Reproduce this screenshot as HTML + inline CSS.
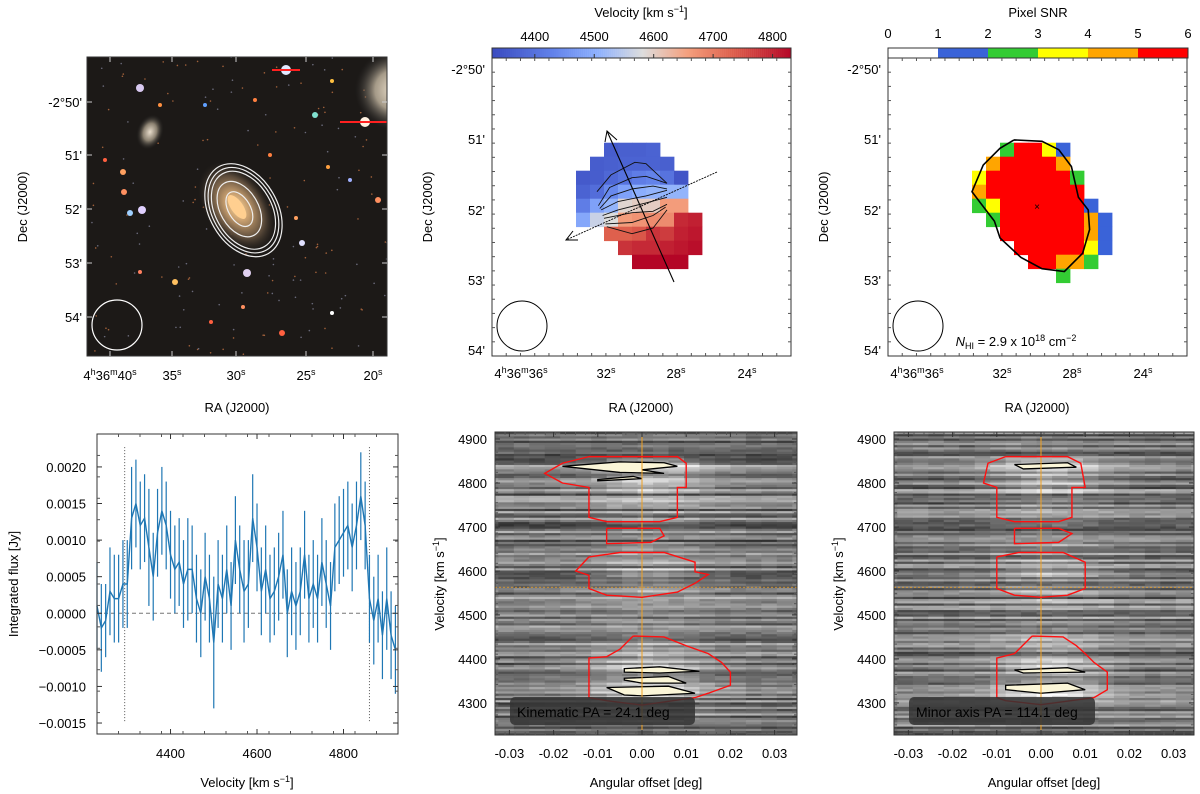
<!DOCTYPE html>
<html><head><meta charset="utf-8">
<style>
html,body{margin:0;padding:0;background:#fff;}
svg{display:block;font-family:"Liberation Sans",Arial,sans-serif;}
text{fill:#000;}
</style></head>
<body>
<svg id="fig" width="1200" height="794" viewBox="0 0 1200 794" xmlns="http://www.w3.org/2000/svg">
<rect width="1200" height="794" fill="#fff"/>
<defs>
 <radialGradient id="galg"><stop offset="0" stop-color="#f4d6a0"/><stop offset="0.3" stop-color="#c9a070"/><stop offset="0.7" stop-color="#5a4a3a"/><stop offset="1" stop-color="#2a2520" stop-opacity="0"/></radialGradient>
 <radialGradient id="gal2"><stop offset="0" stop-color="#e8dccb"/><stop offset="0.5" stop-color="#8a8070"/><stop offset="1" stop-color="#222" stop-opacity="0"/></radialGradient>
 <radialGradient id="bigg"><stop offset="0" stop-color="#f0e4d0"/><stop offset="0.5" stop-color="#a59a88"/><stop offset="1" stop-color="#333" stop-opacity="0"/></radialGradient>
 <clipPath id="clipTL"><rect x="87" y="57" width="300" height="299"/></clipPath>
 <clipPath id="clipPV1"><rect x="495" y="432" width="302" height="303"/></clipPath>
 <clipPath id="clipPV2"><rect x="894" y="432" width="300" height="303"/></clipPath>
</defs>
<g id="layer"></g>
</svg>
<script>
// ---------- DATA ----------
const specVel = [4230,4240,4250,4260,4270,4280,4290,4300,4310,4320,4330,4340,4350,4360,4370,4380,4390,4400,4410,4420,4430,4440,4450,4460,4470,4480,4490,4500,4510,4520,4530,4540,4550,4560,4570,4580,4590,4600,4610,4620,4630,4640,4650,4660,4670,4680,4690,4700,4710,4720,4730,4740,4750,4760,4770,4780,4790,4800,4810,4820,4830,4840,4850,4860,4870,4880,4890,4900,4910,4920];
const specFlux = [0.0001,-0.0002,-0.0001,0.0003,0.0002,0.0002,0.0004,0.0004,0.0013,0.0015,0.0012,0.0013,0.0009,0.0005,0.0011,0.0014,0.0012,0.0008,0.0006,0.0007,0.0004,0.0006,0.0006,0.0002,0.0000,0.0005,0.0002,-0.0004,0.0004,0.0002,0.0006,0.0001,0.0010,0.0006,0.0003,0.0004,0.0013,0.0009,0.0003,0.0006,0.0002,0.0003,0.0005,0.0008,0.0000,0.0003,0.0001,0.0003,0.0008,0.0002,0.0004,0.0002,0.0007,0.0004,0.0001,0.0009,0.0010,0.0011,0.0012,0.0009,0.0012,0.0016,0.0012,0.0002,-0.0001,0.0002,-0.0003,0.0002,-0.0003,-0.0005];
const specErr = [0.0006,0.0006,0.0005,0.0006,0.0006,0.0006,0.0006,0.0006,0.0007,0.0006,0.0006,0.0006,0.0008,0.0006,0.0006,0.0006,0.0006,0.0006,0.0006,0.0006,0.0006,0.0007,0.0006,0.0006,0.0006,0.0006,0.0006,0.0009,0.0006,0.0006,0.0006,0.0006,0.0006,0.0006,0.0007,0.0006,0.0006,0.0006,0.0006,0.0006,0.0006,0.0006,0.0006,0.0006,0.0006,0.0006,0.0006,0.0006,0.0006,0.0006,0.0006,0.0006,0.0006,0.0006,0.0006,0.0006,0.0006,0.0006,0.0006,0.0006,0.0006,0.0006,0.0006,0.0006,0.0006,0.0006,0.0006,0.0007,0.0006,0.0006];
const specYTicks = [-0.0015,-0.0010,-0.0005,0.0000,0.0005,0.0010,0.0015,0.0020];
const specXTicks = [4400,4600,4800];
const lineEdges = [4294,4860];

const velGrid = [
 [null,null,4360,4365,4365,4370,null,null,null,null],
 [null,4360,4365,4370,4370,4370,4365,null,null,null],
 [4355,4360,4380,4400,4420,4430,4400,4345,null,null],
 [4370,4390,4440,4480,4500,4510,4510,4510,null,null],
 [4420,4480,4510,4590,4600,4600,4660,4660,null,null],
 [4490,4560,4580,4660,4670,4680,4680,4790,4800,null],
 [null,null,4730,4730,4740,4780,4770,4800,4810,null],
 [null,null,null,4780,4790,4790,4800,4810,4820,null],
 [null,null,null,null,4830,4830,4830,4830,null,null]
];
const velTicks = [4400,4500,4600,4700,4800];
const snrGrid = [
 [0,0,2,5,5,3,1,0,0,0],
 [0,4,5,5,5,5,4,0,0,0],
 [3,5,5,5,5,5,5,2,0,0],
 [4,5,5,5,5,5,5,5,0,0],
 [2,3,5,5,5,5,5,5,1,0],
 [0,2,5,5,5,5,5,5,4,1],
 [0,0,5,5,5,5,5,5,4,1],
 [0,0,0,5,5,5,5,5,3,1],
 [0,0,0,0,5,5,4,4,2,0],
 [0,0,0,0,0,0,2,0,0,0]
];
const snrColors = ['#ffffff','#3a63d8','#33cc33','#ffff00','#ffa500','#ff0000'];
const snrTicks = [0,1,2,3,4,5,6];
const nhiContour = [[3,-0.2],[5,-0.1],[6.2,0.5],[7.1,1.7],[7.6,3.9],[8.3,4.8],[8.4,6.2],[7.9,7.9],[6.6,9.2],[5,9],[3.5,8.2],[2,6.8],[1.6,5.6],[0.6,4.3],[0,3.5],[0.8,1.6],[2,0.4],[3,-0.2]];
const isoLines = [
 [[1.5,3.5],[2.5,2.3],[4.2,1.4],[5,1.5],[6.5,2.9]],
 [[1.6,4.5],[2.4,3.2],[4,2.5],[5,2.4],[6.5,2.9]],
 [[1.7,4.7],[2.5,3.8],[4,3.3],[5.5,3.1],[6.5,3.3]],
 [[1.8,4.8],[3,4.2],[5,3.8],[6.5,3.4]],
 [[1.9,5.2],[3,4.8],[5,4.3],[6.5,3.9]],
 [[2,5.4],[4,5],[5.5,4.9],[6.5,4.4]],
 [[2.1,5.8],[4,5.7],[5.5,5.2],[6.4,4.6]],
 [[2.2,6],[4,6.5],[5.5,6.1],[6.5,4.8]]
];
const pvKinRed = [
 [[-0.012,4860],[0.008,4860],[0.010,4845],[0.010,4790],[0.008,4790],[0.008,4722],[0.004,4712],[-0.008,4712],[-0.012,4722],[-0.012,4790],[-0.018,4800],[-0.022,4822],[-0.018,4845],[-0.012,4860]],
 [[-0.008,4697],[0.004,4697],[0.005,4680],[0.002,4665],[-0.008,4662],[-0.008,4697]],
 [[-0.012,4632],[-0.005,4642],[0.005,4642],[0.012,4620],[0.012,4598],[0.015,4592],[0.012,4572],[0.008,4552],[0.0,4540],[-0.008,4545],[-0.012,4560],[-0.012,4590],[-0.015,4600],[-0.012,4632]],
 [[-0.002,4452],[0.005,4450],[0.010,4430],[0.015,4412],[0.018,4392],[0.020,4370],[0.020,4340],[0.015,4322],[0.012,4312],[0.0,4295],[-0.008,4305],[-0.012,4312],[-0.012,4402],[-0.008,4405],[-0.005,4422],[-0.002,4452]]
];
const pvMinRed = [
 [[-0.008,4860],[0.006,4860],[0.009,4845],[0.010,4790],[0.007,4790],[0.007,4722],[0.004,4712],[-0.006,4712],[-0.010,4722],[-0.010,4790],[-0.013,4800],[-0.012,4845],[-0.008,4860]],
 [[-0.006,4697],[0.004,4697],[0.007,4685],[0.004,4665],[-0.006,4662],[-0.006,4697]],
 [[-0.010,4632],[-0.005,4642],[0.005,4642],[0.010,4620],[0.010,4560],[0.006,4545],[0.0,4540],[-0.006,4545],[-0.010,4560],[-0.010,4632]],
 [[-0.002,4452],[0.005,4450],[0.008,4430],[0.010,4412],[0.012,4392],[0.015,4370],[0.015,4330],[0.012,4312],[0.0,4296],[-0.008,4305],[-0.010,4312],[-0.010,4402],[-0.006,4412],[-0.002,4452]]
];
// high-level (black) contours with pale fill
const pvKinBlack = [
 [[-0.018,4838],[-0.005,4848],[0.005,4846],[0.008,4838],[0.0,4830],[0.005,4822],[-0.005,4824],[-0.018,4838]],
 [[-0.010,4808],[-0.002,4815],[0.0,4810],[-0.010,4805]],
 [[-0.004,4378],[0.004,4382],[0.013,4372],[0.004,4368],[-0.004,4370]],
 [[-0.004,4356],[0.006,4360],[0.010,4345],[0.0,4345],[-0.004,4352]],
 [[-0.008,4335],[0.006,4338],[0.012,4322],[0.0,4316],[-0.004,4318],[-0.008,4335]]
];
const pvMinBlack = [
 [[-0.006,4842],[0.006,4846],[0.008,4836],[-0.004,4832],[-0.006,4842]],
 [[-0.006,4375],[0.006,4380],[0.010,4370],[-0.004,4368]],
 [[-0.008,4340],[0.006,4345],[0.010,4330],[0.0,4322],[-0.008,4330]]
];
const pvXTicks = [-0.03,-0.02,-0.01,0.00,0.01,0.02,0.03];
const pvYTicks = [4300,4400,4500,4600,4700,4800,4900];
const stars = [[140,88,4,'#d8c8f0'],[286,70,5,'#e0e8ff'],[365,122,5,'#fff0e0'],[123,172,3,'#ffa060'],[124,192,3,'#ff9060'],[130,213,3,'#a0d0ff'],[142,210,4,'#e0d0ff'],[247,273,4,'#e0d0f0'],[315,115,3,'#80e0d0'],[332,81,2,'#ffc040'],[302,243,3,'#e0e0ff'],[296,218,2,'#ffa060'],[175,282,3,'#ffc060'],[211,322,2,'#ff6040'],[282,333,3,'#ff6040'],[332,313,2,'#ffffff'],[140,272,2,'#ff8060'],[205,105,2,'#60a0ff'],[378,200,3,'#ff9060'],[350,180,2,'#a0b0ff'],[243,307,2,'#ff9060'],[270,155,2,'#ff8040'],[160,105,2,'#ff9040'],[328,167,2,'#ffa040'],[255,100,2,'#ff8040'],[105,160,2,'#ff6040']];

// ---------- helpers ----------
const NS='http://www.w3.org/2000/svg';
const root=document.getElementById('layer');
function el(tag,attrs,parent){const e=document.createElementNS(NS,tag);for(const k in attrs)e.setAttribute(k,attrs[k]);(parent||root).appendChild(e);return e;}
function txt(x,y,s,size,anchor,parent,extra){const t=el('text',Object.assign({x:x,y:y,'font-size':size||13,'text-anchor':anchor||'middle'},extra||{}),parent);t.innerHTML=s;return t;}
function fmt(v,d){let s=v.toFixed(d);if(v<0)s='\u2212'+(-v).toFixed(d);return s;}
function ticksBox(x0,y0,x1,y1,xs,ys,parent,col){
 const c=col||'#333';
 xs.forEach(x=>{el('line',{x1:x,y1:y1,x2:x,y2:y1-5,stroke:c,'stroke-width':1},parent);el('line',{x1:x,y1:y0,x2:x,y2:y0+5,stroke:c,'stroke-width':1},parent);});
 ys.forEach(y=>{el('line',{x1:x0,y1:y,x2:x0+5,y2:y,stroke:c,'stroke-width':1},parent);el('line',{x1:x1,y1:y,x2:x1-5,y2:y,stroke:c,'stroke-width':1},parent);});
}
function minorTicks(x0,y0,x1,y1,n,parent){
 for(let i=1;i<n;i++){const x=x0+(x1-x0)*i/n;el('line',{x1:x,y1:y1,x2:x,y2:y1-3,stroke:'#555'},parent);el('line',{x1:x,y1:y0,x2:x,y2:y0+3,stroke:'#555'},parent);
 const y=y0+(y1-y0)*i/n;el('line',{x1:x0,y1:y,x2:x0+3,y2:y,stroke:'#555'},parent);el('line',{x1:x1,y1:y,x2:x1-3,y2:y,stroke:'#555'},parent);}
}
const cwStops=[[0,[59,76,192]],[0.2,[98,130,234]],[0.35,[141,176,254]],[0.5,[221,221,221]],[0.65,[245,160,126]],[0.8,[222,96,77]],[1,[180,4,38]]];
function coolwarm(v,lo,hi){
 let t=Math.max(0,Math.min(1,(v-lo)/(hi-lo)));
 for(let i=1;i<cwStops.length;i++){if(t<=cwStops[i][0]){const a=cwStops[i-1],b=cwStops[i];const u=(t-a[0])/(b[0]-a[0]);return 'rgb('+a[1].map((x,j)=>Math.round(x+(b[1][j]-x)*u)).join(',')+')';}}
 return 'rgb(180,4,38)';
}
function hash(i,j){const s=Math.sin(i*12.9898+j*78.233)*43758.5453;return s-Math.floor(s);}

// ---------- Panel 1: optical ----------
(function(){
 const g=el('g',{'clip-path':'url(#clipTL)'});
 
 
 el('rect',{x:87,y:57,width:300,height:299,fill:'#1c1917'},g);
 for(let i=0;i<160;i++){const x=87+hash(i,3)*300,y=57+hash(i,7)*299;el('circle',{cx:x,cy:y,r:0.8,fill:hash(i,9)>0.5?'#a0603a':'#6a6a7a'},g);}
 el('ellipse',{cx:395,cy:90,rx:40,ry:40,fill:'url(#bigg)'},g);
 el('ellipse',{cx:150,cy:132,rx:13,ry:18,fill:'url(#gal2)',transform:'rotate(20 150 132)'},g);
 el('ellipse',{cx:237,cy:207,rx:32,ry:50,fill:'url(#galg)',transform:'rotate(-35 237 207)'},g);
 el('ellipse',{cx:237,cy:207,rx:6,ry:14,fill:'#ffcf90',transform:'rotate(-35 237 207)'},g);
 stars.forEach(s=>{
  const c=el('circle',{cx:s[0],cy:s[1],r:s[2],fill:s[3]},g);
  
  
 });
 el('line',{x1:272,y1:70,x2:300,y2:70,stroke:'#ff2020','stroke-width':2},g);
 el('line',{x1:340,y1:122,x2:388,y2:122,stroke:'#ff2020','stroke-width':2},g);
 const cont=[[34,50],[31,46],[28,42],[19,30],[11,19]];
 cont.forEach((c,i)=>{const e=el('ellipse',{cx:238+(i<3?3:0),cy:210+(i<3?3:0),rx:c[0],ry:c[1],fill:'none',stroke:'#eee','stroke-width':1.2,transform:'rotate(-30 237 207)'},g);
  
  });
 const b=el('circle',{cx:117,cy:325,r:25,fill:'none',stroke:'#fff','stroke-width':1.2},g);
 
 
 el('rect',{x:87,y:57,width:300,height:299,fill:'none',stroke:'#333'});
 ticksBox(87,57,387,356,[110,172,236,306,373],[102,155,209,263,317],root,'#ccc');
 [["-2°50'",102],["51'",155],["52'",209],["53'",263],["54'",317]].forEach(l=>txt(82,l[1]+5,l[0],13,'end'));
 [['4<tspan dy="-5" font-size="9">h</tspan><tspan dy="5">36</tspan><tspan dy="-5" font-size="9">m</tspan><tspan dy="5">40</tspan><tspan dy="-5" font-size="9">s</tspan>',110],['35<tspan dy="-5" font-size="9">s</tspan>',172],['30<tspan dy="-5" font-size="9">s</tspan>',236],['25<tspan dy="-5" font-size="9">s</tspan>',306],['20<tspan dy="-5" font-size="9">s</tspan>',373]].forEach(l=>txt(l[1],380,l[0],13));
 const yt=txt(0,0,'Dec (J2000)',13,'middle',root,{transform:'translate(27 207) rotate(-90)'});
 
 
 const xt=txt(237,412,'RA (J2000)',13);
 
 
})();

function mapAxes(x0){
 el('rect',{x:x0,y:58,width:299,height:298,fill:'none',stroke:'#333'});
 minorTicks(x0,58,x0+299,356,21,root);
 [["-2°50'",69],["51'",139],["52'",210],["53'",280],["54'",350]].forEach(l=>txt(x0-7,l[1]+5,l[0],13,'end'));
 const xs=[[ '4<tspan dy="-5" font-size="9">h</tspan><tspan dy="5">36</tspan><tspan dy="-5" font-size="9">m</tspan><tspan dy="5">36</tspan><tspan dy="-5" font-size="9">s</tspan>',29],['32<tspan dy="-5" font-size="9">s</tspan>',114],['28<tspan dy="-5" font-size="9">s</tspan>',184],['24<tspan dy="-5" font-size="9">s</tspan>',255]];
 xs.forEach(l=>txt(x0+l[1],378,l[0],13));
 const yt=txt(0,0,'Dec (J2000)',13,'middle',root,{transform:'translate('+(x0-60)+' 207) rotate(-90)'});
 
 
 const xt=txt(x0+149,412,'RA (J2000)',13);
 
 
 const b=el('circle',{cx:x0+30,cy:326,r:25,fill:'none',stroke:'#000','stroke-width':1});
 
 
}
const PIX=14, GY0=142.7;
function gx(x0,c){return x0+84+c*PIX;}
function gy(r){return GY0+r*PIX;}

// ---------- Panel 2: velocity field ----------
(function(){
 const x0=492;
 const VLO=4328,VHI=4831;
 const cbx=v=>x0+(v-VLO)/(VHI-VLO)*299;
 for(let i=0;i<150;i++){const v=VLO+(VHI-VLO)*i/150;el('rect',{x:cbx(v),y:48,width:2.2,height:10,fill:coolwarm(v,VLO,VHI)});}
 const cb=el('rect',{x:x0,y:48,width:299,height:10,fill:'none',stroke:'#333'});
 
 
 velTicks.forEach(v=>{txt(cbx(v),41,v,13);el('line',{x1:cbx(v),y1:58,x2:cbx(v),y2:54,stroke:'#333'});});
 txt(x0+149,17,'Velocity [km s<tspan dy="-5" font-size="9">−1</tspan><tspan dy="5">]</tspan>',13);
 velGrid.forEach((row,r)=>row.forEach((v,c)=>{if(v===null)return;
  const p=el('rect',{x:gx(x0,c),y:gy(r),width:PIX+0.4,height:PIX+0.4,fill:coolwarm(v,VLO,VHI)});
  
  }));
 isoLines.forEach(l=>{const pl=el('polyline',{points:l.map(p=>gx(x0,p[0])+','+gy(p[1])).join(' '),fill:'none',stroke:'#111','stroke-width':0.9});
  
  });
 const kin=el('line',{x1:674,y1:282,x2:607,y2:131,stroke:'#000','stroke-width':1.1});
 
 
 el('polyline',{points:'605,142 607,131 617,140',fill:'none',stroke:'#000'});
 const mn=el('line',{x1:717,y1:172,x2:566,y2:240,stroke:'#000','stroke-width':0.9,'stroke-dasharray':'2,1'});
 
 
 el('polyline',{points:'573,231 566,240 578,240',fill:'none',stroke:'#000'});
 mapAxes(x0);
})();

// ---------- Panel 3: SNR ----------
(function(){
 const x0=888;
 snrColors.forEach((c,i)=>el('rect',{x:x0+i*50,y:48,width:50,height:10,fill:c}));
 const cb=el('rect',{x:x0,y:48,width:300,height:10,fill:'none',stroke:'#333'});
 
 
 snrTicks.forEach((t,i)=>txt(x0+i*50,38,t,13));
 txt(x0+150,17,'Pixel SNR',13);
 snrGrid.forEach((row,r)=>row.forEach((v,c)=>{if(v===0)return;
  const p=el('rect',{x:gx(x0,c),y:gy(r),width:PIX+0.4,height:PIX+0.4,fill:snrColors[v]});
  
  }));
 const pc=el('polyline',{points:nhiContour.map(p=>gx(x0,p[0])+','+gy(p[1])).join(' '),fill:'none',stroke:'#000','stroke-width':1.6});
 
 
 txt(1037,210,'×',10);
 const lab=txt(1016,346,'<tspan font-style="italic">N</tspan><tspan font-size="9" dy="3">HI</tspan><tspan dy="-3"> = 2.9 x 10</tspan><tspan font-size="9" dy="-5">18</tspan><tspan dy="5"> cm</tspan><tspan font-size="9" dy="-5">−2</tspan>',13);
 
 
 mapAxes(x0);
})();

// ---------- Panel 4: spectrum ----------
(function(){
 const X0=97,X1=398,Y0=434,Y1=734;
 const VMIN=4230,VMAX=4926,FMIN=-0.00165,FMAX=0.00245;
 const sx=v=>X0+(v-VMIN)/(VMAX-VMIN)*(X1-X0);
 const sy=f=>Y1-(f-FMIN)/(FMAX-FMIN)*(Y1-Y0);
 const g=el('g',{});
 
 
 el('line',{x1:X0,y1:sy(0),x2:X1,y2:sy(0),stroke:'#777','stroke-dasharray':'4,3'},g);
 lineEdges.forEach(v=>el('line',{x1:sx(v),y1:sy(0.00227),x2:sx(v),y2:sy(-0.00148),stroke:'#555','stroke-dasharray':'1,2'},g));
 specVel.forEach((v,i)=>{const e=el('line',{x1:sx(v),y1:sy(specFlux[i]-specErr[i]),x2:sx(v),y2:sy(specFlux[i]+specErr[i]),stroke:'#1f77b4','stroke-width':1.2},g);
  
  });
 const ln=el('polyline',{points:specVel.map((v,i)=>sx(v)+','+sy(specFlux[i])).join(' '),fill:'none',stroke:'#1f77b4','stroke-width':1.4},g);
 
 
 el('rect',{x:X0,y:Y0,width:X1-X0,height:Y1-Y0,fill:'none',stroke:'#333'});
 ticksBox(X0,Y0,X1,Y1,specXTicks.map(sx),specYTicks.map(sy));
 minorTicks(X0,Y0,X1,Y1,14,root);
 specYTicks.forEach(t=>txt(X0-11,sy(t)+5,fmt(t,4),13,'end'));
 specXTicks.forEach(t=>txt(sx(t),758,t,13));
 txt(X0+150,787,'Velocity [km s<tspan dy="-5" font-size="9">−1</tspan><tspan dy="5">]</tspan>',13);
 txt(0,0,'Integrated flux [Jy]',13,'middle',root,{transform:'translate(18 584) rotate(-90)'});
})();

// ---------- PV panels ----------
function pvPanel(X0,X1,clip,zeroX,red,black,label,seed,name){
 const Y0=432,Y1=735,VMIN=4227,VMAX=4916;
 const scale=4.42/0.001;
 const px=d=>zeroX+d*scale;
 const py=v=>Y1-(v-VMIN)/(VMAX-VMIN)*(Y1-Y0);
 const g=el('g',{'clip-path':'url('+clip+')'});
 
 
 const dv=5,dd=0.0035;
 for(let v=VMIN;v<VMAX;v+=dv){
  let k=Math.round((v-specVel[0])/10);k=Math.max(0,Math.min(specFlux.length-1,k));
  const s=Math.max(0,specFlux[k]);
  const rn=hash(v+seed,1.3);
  for(let d=-0.036;d<0.037;d+=dd){
   const sp=Math.exp(-d*d/(2*0.009*0.009));
   let val=0.1+0.5*rn+0.14*hash(v+seed,d*1000)+ s*260*sp;
   val=Math.max(0,Math.min(1,val));
   const c=Math.round(25+val*230);
   el('rect',{x:px(d),y:py(v+dv),width:dd*scale+0.5,height:(dv/(VMAX-VMIN))*(Y1-Y0)+0.4,fill:'rgb('+c+','+c+','+c+')'},g);
  }
 }
 black.forEach(poly=>{const p=el('polygon',{points:poly.map(q=>px(q[0])+','+py(q[1])).join(' '),fill:'#fbf6d8',stroke:'#000','stroke-width':1.3},g);
  
  });
 el('line',{x1:px(0),y1:Y0,x2:px(0),y2:Y1,stroke:'#f0a020','stroke-width':1},g);
 el('line',{x1:X0,y1:py(4563),x2:X1,y2:py(4563),stroke:'#f0a020','stroke-width':0.8,'stroke-dasharray':'2,2'},g);
 red.forEach(poly=>{const p=el('polyline',{points:poly.map(q=>px(q[0])+','+py(q[1])).join(' '),fill:'none',stroke:'#ff1010','stroke-width':1.4},g);
  
  });
 el('rect',{x:X0+15,y:Y1-38,width:label.w,height:28,rx:5,fill:'#333','fill-opacity':0.85},g);
 const lt=txt(X0+22,Y1-18,label.t,14,'start',g,{fill:'#fff'});
 
 
 el('rect',{x:X0,y:Y0,width:X1-X0,height:Y1-Y0,fill:'none',stroke:'#333'});
 ticksBox(X0,Y0,X1,Y1,pvXTicks.map(px),pvYTicks.map(py));
 minorTicks(X0,Y0,X1,Y1,30,root);
 pvYTicks.forEach(t=>txt(X0-8,py(t)+5,t,13,'end'));
 pvXTicks.forEach(t=>txt(px(t),758,t.toFixed(2),13));
 txt((X0+X1)/2,787,'Angular offset [deg]',13);
 txt(0,0,'Velocity [km s<tspan dy="-5" font-size="9">−1</tspan><tspan dy="5">]</tspan>',13,'middle',root,{transform:'translate('+(X0-51)+' 584) rotate(-90)'});
}
pvPanel(495,797,'#clipPV1',642,pvKinRed,pvKinBlack,{t:'Kinematic PA =  24.1 deg',w:185},0,'pv-diagram-kinematic');
pvPanel(894,1194,'#clipPV2',1041,pvMinRed,pvMinBlack,{t:'Minor axis PA = 114.1 deg',w:186},777,'pv-diagram-minor');
</script>
</body></html>
